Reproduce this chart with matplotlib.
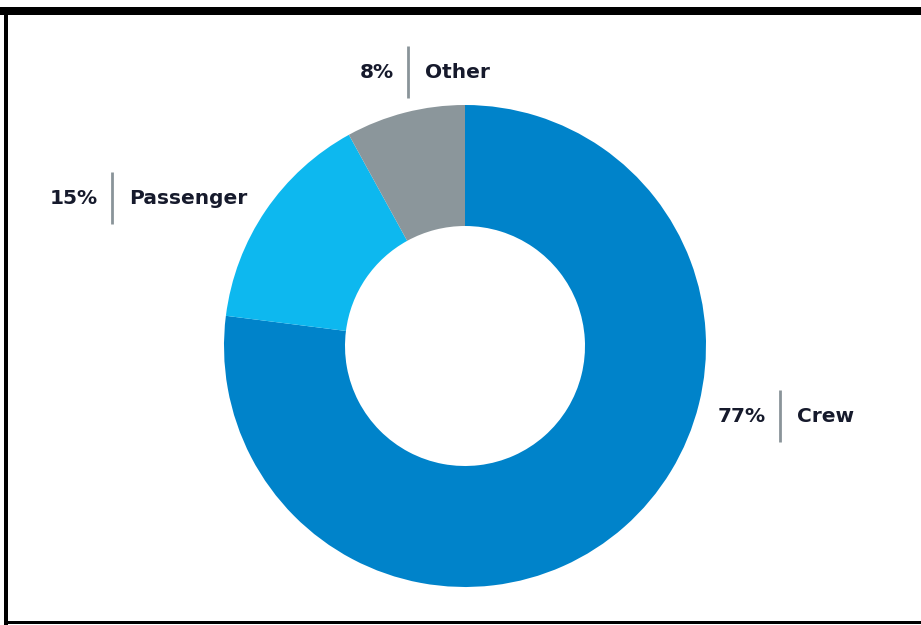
import matplotlib.pyplot as plt
from matplotlib.lines import Line2D

labels = ['Crew', 'Passenger', 'Other']
shares = [77, 15, 8]
colors = ['#0083ca', '#0db8ef', '#8b969b']

# label anchor: (separator x, centre y) in pixels from top-left
label_pos = {'Crew': (780, 416), 'Passenger': (112, 198), 'Other': (408, 72)}

W, H = 921, 625
fig = plt.figure(figsize=(W / 100, H / 100), dpi=100)
ax = fig.add_axes([0, 0, 1, 1])

ax.pie(shares, colors=colors, startangle=90, counterclock=False,
       center=(465, H - 346), radius=241,
       wedgeprops=dict(width=121, linewidth=0), frame=True)
ax.set_xlim(0, W)
ax.set_ylim(0, H)
ax.set_aspect('equal')
ax.axis('off')

txt = dict(fontsize=14.5, fontweight='bold', color='#161a2c', family=['DejaVu Sans'],
           va='center')
for name, val in zip(labels, shares):
    sx, cy = label_pos[name]
    y = H - cy
    ax.plot([sx, sx], [y - 26, y + 26], color='#8a9499', lw=2, solid_capstyle='butt')
    ax.text(sx - 14, y, f'{val}%', ha='right', **txt)
    ax.text(sx + 17, y, name, ha='left', **txt)

# frame drawn around the chart area
fig.add_artist(Line2D([0, W], [H - 11, H - 11], transform=None, color='black', lw=8 * 0.72))
fig.add_artist(Line2D([6, 6], [H - 11, 2], transform=None, color='black', lw=4 * 0.72))
fig.add_artist(Line2D([6, W], [3.5, 3.5], transform=None, color='black', lw=3 * 0.72))

fig.savefig('out.png', dpi=100)
